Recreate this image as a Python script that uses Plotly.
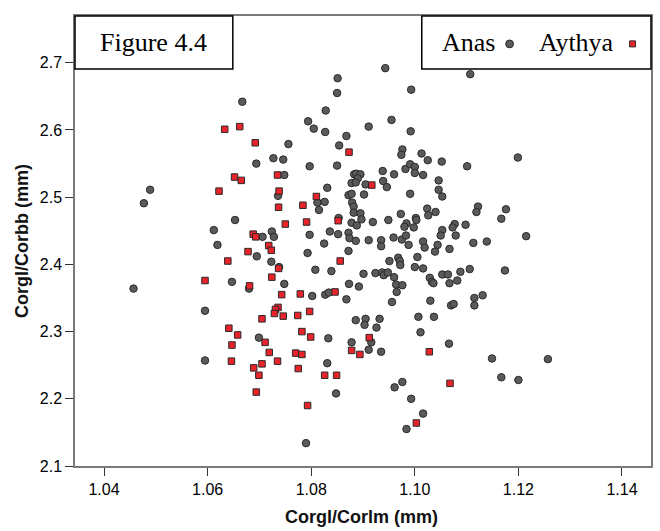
import plotly.graph_objects as go

# ---- data ----
anas_x = [1.0667,1.0694,1.0727,1.0489,1.0736,1.0943,1.0851,1.0850,1.0993,1.0828,
          1.0955,1.0794,1.0805,1.0827,1.0911,1.0992,1.0868,1.0756,1.0854,1.0976,
          1.0974,1.1013,1.1025,1.1052,1.0746,1.0797,1.0850,1.0748,1.0883,1.0887,
          1.0895,1.0890,1.0878,1.0886,1.0905,1.0938,1.0960,1.0939,1.0946,1.0982,
          1.0991,1.1000,1.1000,1.1016,1.1046,1.1046,1.1053,1.0831,1.0872,1.0878,
          1.0902,1.0991,1.1107,1.1199,1.1101,1.1122,1.1119,1.1176,1.1167,1.1077,
          1.1073,1.1098,1.1053,1.1079,1.1050,1.1113,1.1139,1.1215,1.1067,1.1044,
          1.1053,1.1064,1.1088,1.1106,1.1174,1.1082,1.1067,1.1131,1.1115,1.1115,
          1.1070,1.1075,1.0477,1.0653,1.0612,1.0706,1.0724,1.0728,1.0619,1.0695,
          1.0723,1.0647,1.0680,1.0457,1.0595,1.0699,1.0595,1.0812,1.0826,1.0815,
          1.0879,1.0882,1.0882,1.0895,1.0897,1.0878,1.0888,1.0853,1.0919,1.0949,
          1.0973,1.1002,1.1003,1.0984,1.0980,1.0998,1.1024,1.1026,1.1040,1.1039,
          1.0836,1.0852,1.0872,1.0874,1.0886,1.0911,1.0935,1.0935,1.0959,1.0975,
          1.0983,1.0988,1.1016,1.1019,1.0797,1.0825,1.0793,1.0872,1.0951,1.0968,
          1.0971,1.0972,1.1005,1.1000,1.1016,1.0738,1.0808,1.0839,1.0901,1.0924,
          1.0937,1.0940,1.0948,1.0960,1.0964,1.0976,1.0965,1.1029,1.1033,1.1036,
          1.0748,1.0873,1.0892,1.0802,1.0827,1.0834,1.0868,1.0956,1.1030,1.0886,
          1.0905,1.0903,1.0932,1.0926,1.1007,1.1037,1.1011,1.0833,1.0878,1.0916,
          1.1066,1.0831,1.0911,1.0935,1.0848,1.0961,1.0976,1.0993,1.1016,1.0984,
          1.0790,1.1149,1.1257,1.1167,1.1200]
anas_y = [2.642,2.550,2.558,2.511,2.502,2.692,2.677,2.655,2.660,2.629,
          2.615,2.613,2.602,2.597,2.605,2.598,2.591,2.579,2.577,2.571,
          2.563,2.565,2.555,2.553,2.556,2.546,2.547,2.533,2.534,2.535,
          2.534,2.528,2.521,2.522,2.519,2.539,2.534,2.524,2.515,2.542,
          2.549,2.545,2.536,2.533,2.525,2.511,2.501,2.514,2.503,2.505,
          2.504,2.505,2.683,2.559,2.546,2.486,2.478,2.482,2.468,2.460,
          2.455,2.459,2.451,2.443,2.443,2.432,2.434,2.442,2.423,2.429,
          2.385,2.385,2.389,2.393,2.391,2.376,2.372,2.354,2.350,2.339,
          2.339,2.341,2.491,2.466,2.451,2.441,2.449,2.441,2.429,2.412,
          2.404,2.374,2.364,2.364,2.331,2.291,2.257,2.492,2.493,2.481,
          2.492,2.486,2.477,2.476,2.467,2.462,2.458,2.469,2.463,2.466,
          2.475,2.469,2.466,2.461,2.456,2.455,2.483,2.473,2.478,2.419,
          2.449,2.445,2.447,2.439,2.435,2.436,2.436,2.427,2.440,2.437,
          2.443,2.429,2.434,2.425,2.444,2.431,2.417,2.420,2.405,2.410,
          2.405,2.399,2.411,2.396,2.394,2.396,2.392,2.390,2.386,2.387,
          2.388,2.384,2.388,2.381,2.370,2.369,2.359,2.380,2.374,2.372,
          2.371,2.371,2.367,2.353,2.355,2.358,2.348,2.344,2.346,2.317,
          2.319,2.310,2.319,2.306,2.322,2.322,2.299,2.290,2.284,2.284,
          2.282,2.253,2.273,2.270,2.208,2.217,2.225,2.200,2.178,2.155,
          2.134,2.260,2.259,2.232,2.228]

aythya_x = [1.0633,1.0662,1.0692,1.0735,1.0652,1.0665,1.0622,1.0738,1.0873,1.0917,
            1.0810,1.0737,1.0688,1.0693,1.0718,1.0723,1.0678,1.0639,1.0737,1.0724,
            1.0595,1.0681,1.0736,1.0731,1.0729,1.0705,1.0641,1.0658,1.0711,1.0647,
            1.0719,1.0646,1.0705,1.0735,1.0689,1.0699,1.0694,1.0784,1.0852,1.0750,
            1.0791,1.0856,1.0743,1.0779,1.0846,1.0746,1.0774,1.0797,1.0782,1.0799,
            1.0912,1.0770,1.0782,1.0775,1.0878,1.0894,1.1028,1.0826,1.0849,1.0793,
            1.1003,1.1068]
aythya_y = [2.601,2.605,2.581,2.533,2.530,2.525,2.509,2.509,2.567,2.518,
            2.501,2.485,2.445,2.441,2.428,2.421,2.419,2.405,2.394,2.381,
            2.376,2.368,2.336,2.333,2.327,2.319,2.305,2.295,2.284,2.280,
            2.269,2.256,2.252,2.256,2.246,2.235,2.210,2.488,2.465,2.460,
            2.463,2.405,2.355,2.356,2.359,2.323,2.324,2.330,2.300,2.292,
            2.291,2.268,2.266,2.245,2.272,2.266,2.270,2.235,2.235,2.190,
            2.164,2.223]

x_ticks = [1.04, 1.06, 1.08, 1.10, 1.12, 1.14]
x_tick_text = ["1.04", "1.06", "1.08", "1.10", "1.12", "1.14"]
y_ticks = [2.1, 2.2, 2.3, 2.4, 2.5, 2.6, 2.7]
y_tick_text = ["2.1", "2.2", "2.3", "2.4", "2.5", "2.6", "2.7"]

series_names = ["Anas", "Aythya"]
title_text = "Figure 4.4"
x_title = "Corgl/Corlm (mm)"
y_title = "Corgl/Corbb (mm)"

ANAS_FILL = "#5a5a5a"
AYTHYA_FILL = "#e8232a"
EDGE = "#2a2a2a"
SERIF = "Liberation Serif, Times New Roman, serif"
SANS = "Liberation Sans, Arial, sans-serif"

fig = go.Figure()
fig.add_trace(go.Scatter(x=anas_x, y=anas_y, mode="markers", name=series_names[0],
                         marker=dict(symbol="circle", size=7.5, color=ANAS_FILL,
                                     line=dict(color=EDGE, width=1))))
fig.add_trace(go.Scatter(x=aythya_x, y=aythya_y, mode="markers", name=series_names[1],
                         marker=dict(symbol="square", size=6.5, color=AYTHYA_FILL,
                                     line=dict(color=EDGE, width=1))))

axis_common = dict(showgrid=False, zeroline=False, showline=True, mirror=True,
                   linecolor="#7a7a7a", linewidth=1.5, ticks="outside", ticklen=8,
                   tickcolor="#333333", tickwidth=1, automargin=False,
                   tickfont=dict(family=SANS, size=16, color="#000000"))

fig.update_layout(
    width=660, height=531,
    margin=dict(l=75, r=8.5, t=16, b=65),
    paper_bgcolor="white", plot_bgcolor="white",
    showlegend=False,
    xaxis=dict(range=[1.0344, 1.1456], tickvals=x_ticks, ticktext=x_tick_text,
               **axis_common),
    yaxis=dict(range=[2.1, 2.7696], tickvals=y_ticks, ticktext=y_tick_text,
               **axis_common),
)

# axis titles
fig.add_annotation(xref="paper", yref="paper", x=0.498, y=-0.113, text="<b>" + x_title + "</b>",
                   showarrow=False, xanchor="center", yanchor="middle",
                   font=dict(family=SANS, size=18, color="#111111"))
fig.add_annotation(xref="paper", yref="paper", x=-0.092, y=0.5, text="<b>" + y_title + "</b>",
                   showarrow=False, xanchor="center", yanchor="middle", textangle=-90,
                   font=dict(family=SANS, size=18, color="#111111"))

# title box
fig.add_shape(type="rect", xref="paper", yref="paper", x0=0, x1=0.274, y0=0.882, y1=1.0,
              line=dict(color="black", width=1.5), fillcolor="white", layer="above")
fig.add_annotation(xref="paper", yref="paper", x=0.137, y=0.941, text=title_text,
                   showarrow=False, xanchor="center", yanchor="middle",
                   font=dict(family=SERIF, size=26, color="black"))

# legend box (text followed by marker)
fig.add_shape(type="rect", xref="paper", yref="paper", x0=0.602, x1=1.0, y0=0.882, y1=1.0,
              line=dict(color="black", width=1.5), fillcolor="white", layer="above")
fig.add_annotation(xref="paper", yref="paper", x=0.683, y=0.941, text=series_names[0],
                   showarrow=False, xanchor="center", yanchor="middle",
                   font=dict(family=SERIF, size=26, color="black"))
fig.add_annotation(xref="paper", yref="paper", x=0.871, y=0.941, text=series_names[1],
                   showarrow=False, xanchor="center", yanchor="middle",
                   font=dict(family=SERIF, size=26, color="black"))
cx, cy = 0.7545, 0.938
fig.add_shape(type="circle", xref="paper", yref="paper",
              x0=cx - 0.0068, x1=cx + 0.0068, y0=cy - 0.0087, y1=cy + 0.0087,
              line=dict(color=EDGE, width=1), fillcolor=ANAS_FILL, layer="above")
sx, sy = 0.968, 0.938
fig.add_shape(type="rect", xref="paper", yref="paper",
              x0=sx - 0.0052, x1=sx + 0.0052, y0=sy - 0.0067, y1=sy + 0.0067,
              line=dict(color=EDGE, width=1), fillcolor=AYTHYA_FILL, layer="above")

fig.write_html("out.html", config={"displayModeBar": False},
               post_script="document.body.style.margin='0';document.body.style.overflow='hidden';")
